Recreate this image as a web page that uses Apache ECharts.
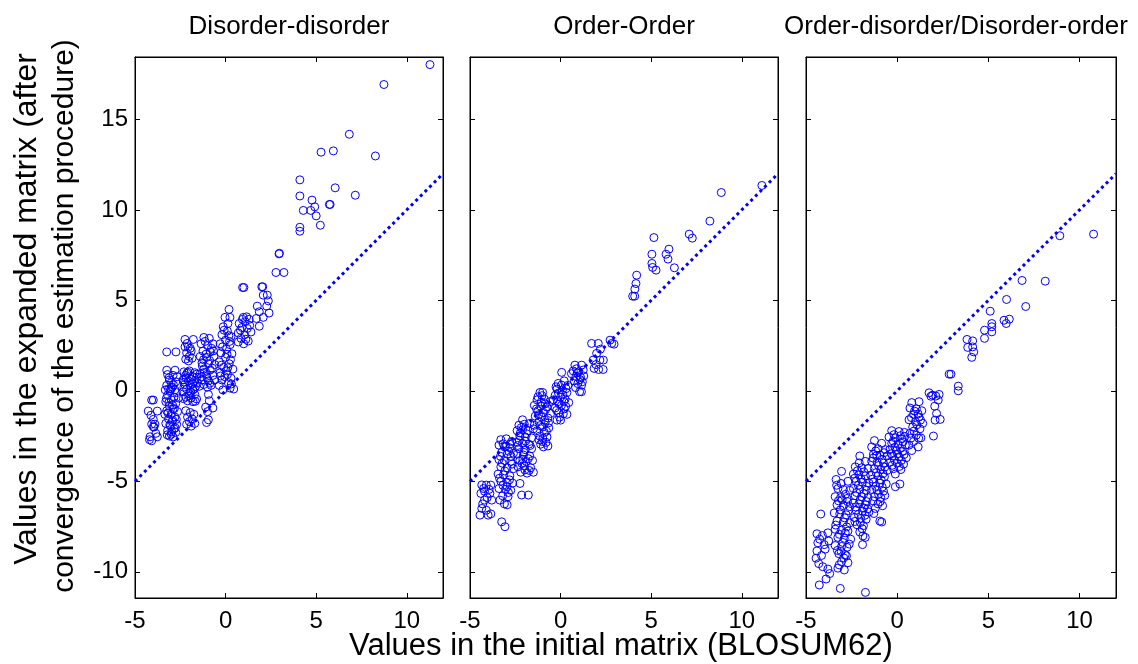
<!DOCTYPE html>
<html>
<head>
<meta charset="utf-8">
<title>Expanded matrix vs BLOSUM62</title>
<script src="https://cdn.jsdelivr.net/npm/echarts@6/dist/echarts.min.js"></script>
<style>
  html, body { margin: 0; padding: 0; background: #fff; }
  #chart { width: 1138px; height: 664px; }
</style>
</head>
<body>
<div id="chart"></div>
<script>
// panel titles
const panelTitles = ['Disorder-disorder', 'Order-Order', 'Order-disorder/Disorder-order'];

// [BLOSUM62 value, value after estimation]
const ddPoints = [
  [-4.08,-0.51],[-3.99,-0.51],[-4.27,-1.12],[-3.77,-1.12],[-3.99,-1.58],[-4.08,-1.84],[-3.9,-1.84],[-3.99,-1.99],
  [-4.17,-2.54],[-3.77,-2.54],[-4.08,-2.76],[-4.2,-2.7],[-3.95,-2.0],[-4.12,-1.35],[-3.85,-2.35],
  [-3.25,2.15],[-2.74,2.15],[-3.25,1.14],[-2.79,1.14],
  [-3.2,0.9],[-2.9,0.85],[-3.1,0.6],[-2.75,0.5],[-3.25,0.3],[-2.95,0.2],[-3.05,0.0],[-2.7,-0.1],[-3.2,-0.25],
  [-2.85,-0.35],[-3.0,-0.5],[-3.3,-0.6],[-2.75,-0.7],[-3.1,-0.85],[-2.9,-1.0],[-3.25,-1.1],[-2.65,-1.15],[-3.0,-1.3],
  [-2.8,-1.45],[-3.15,-1.55],[-2.95,-1.7],[-3.3,-1.8],[-2.7,-1.85],[-3.05,-1.95],[-2.85,-2.1],[-3.2,-2.2],[-2.75,-2.3],
  [-3.0,-2.4],[-2.9,-2.55],[-3.1,-2.5],[-3.35,-1.3],[-3.15,0.1],[-2.8,0.05],[-3.0,0.45],[-2.6,-0.4],
  [-3.12,0.72],[-2.88,0.33],[-3.27,-0.42],[-2.93,-0.78],[-3.18,-1.22],[-2.72,-1.58],[-3.08,-1.88],[-2.97,-2.27],
  [-3.22,-2.43],[-2.83,-0.98],[-3.02,0.12],[-2.67,0.78],[-3.33,0.05],[-2.92,-1.62],[-3.13,-0.63],[-2.78,-2.05],
  [-2.24,2.84],[-1.78,2.84],[-2.24,2.43],[-2.06,2.43],[-2.15,2.1],[-1.9,2.2],[-2.0,1.9],[-2.2,1.75],[-1.85,1.8],[-2.05,1.65],
  [-2.12,2.62],[-1.95,2.35],
  [-2.3,1.05],[-2.0,1.1],[-1.7,1.0],[-2.2,0.85],[-1.85,0.8],[-1.6,0.75],[-2.35,0.6],[-2.05,0.55],[-1.75,0.5],[-2.25,0.35],
  [-1.95,0.3],[-1.65,0.25],[-2.15,0.1],[-1.8,0.05],[-2.35,-0.05],[-2.0,-0.15],[-1.7,-0.2],[-2.2,-0.35],[-1.9,-0.4],
  [-1.6,-0.45],[-2.1,-0.55],[-1.8,-0.6],[-2.3,0.2],[-1.55,0.45],
  [-2.13,0.97],[-1.88,0.62],[-2.27,0.48],[-1.72,0.12],[-2.03,-0.27],[-1.67,-0.58],[-2.18,0.71],[-1.92,-0.08],
  [-2.33,-0.43],[-1.58,0.93],[-2.08,1.03],[-1.82,0.38],
  [-2.2,-1.1],[-1.95,-1.2],[-1.75,-1.3],[-2.1,-1.45],[-1.85,-1.55],[-2.0,-1.7],[-1.7,-1.8],[-1.9,-1.95],[-2.15,-1.85],
  [-1.2,2.95],[-0.9,2.9],[-1.35,2.6],[-1.0,2.5],[-0.7,2.6],[-1.25,2.2],[-0.85,2.15],[-1.4,1.9],[-1.05,1.85],[-0.65,1.9],
  [-1.3,1.55],[-0.95,1.5],[-0.6,1.45],[-1.2,1.2],[-0.85,1.15],[-1.4,0.95],[-1.05,0.9],[-0.7,0.85],[-1.3,0.6],[-0.95,0.55],
  [-0.6,0.6],[-1.2,0.35],[-0.8,0.3],[-1.45,0.25],[-1.0,0.2],
  [-1.13,2.73],[-0.78,2.35],[-1.22,1.72],[-0.88,1.68],[-1.17,1.02],[-0.73,1.25],[-1.33,0.78],[-0.87,0.42],
  [-1.08,2.03],[-0.67,2.21],[-1.28,1.37],[-1.02,0.72],
  [-0.95,-0.2],[-0.9,-0.55],[-1.1,-0.9],[-0.7,-0.95],[-1.0,-1.15],[-0.95,-1.6],[-1.05,-1.75],
  [0.19,4.5],[-0.03,4.06],[0.24,4.06],[-0.13,3.54],
  [0.1,3.3],[-0.2,3.1],[0.3,3.0],[0.0,2.8],[-0.3,2.6],[0.25,2.55],[0.05,2.3],[-0.25,2.1],[0.35,2.05],[0.0,1.85],
  [-0.35,1.6],[0.2,1.5],[-0.1,1.3],[0.4,1.2],[-0.3,1.0],[0.1,0.9],[0.3,0.7],[-0.2,0.6],[0.15,0.45],[-0.35,0.3],
  [0.25,0.15],[0.45,0.1],[0.05,1.1],[-0.15,0.05],
  [0.13,3.72],[-0.08,3.35],[0.22,2.73],[-0.17,2.43],[0.08,2.02],[0.27,1.72],[-0.23,1.42],[0.12,1.28],[-0.05,0.78],
  [0.32,0.38],[-0.28,0.82],[0.18,3.05],
  [1.16,4.09],[0.98,4.06],[0.75,3.72],[1.3,3.95],[0.9,3.5],[1.2,3.45],[0.7,3.2],[1.05,3.1],[1.4,3.25],[0.85,2.9],
  [1.25,2.75],[0.7,2.7],[1.0,2.6],[0.94,5.71],[1.01,5.71],[1.08,3.82],[0.82,3.35],[1.12,2.85],[1.33,3.62],[0.93,3.95],
  [2.0,5.75],[2.05,5.75],[2.08,5.29],[2.3,5.29],[1.75,4.68],[2.36,4.97],[1.86,4.37],[2.27,4.68],[2.08,4.06],[1.86,3.57],
  [1.7,4.0],[2.4,4.3],
  [2.95,7.57],[2.97,7.6],[2.78,6.54],[3.22,6.54],[4.1,9.04],[4.1,8.82],[5.23,9.15],[5.73,10.3],[5.77,10.3],[5.0,9.67],
  [4.29,9.97],[4.7,9.97],[4.92,10.17],[4.77,10.54],[7.16,10.81],[6.05,11.22],[4.1,10.77],[4.1,11.66],[8.27,12.98],
  [5.95,13.26],[5.27,13.19],[6.83,14.18],[8.74,16.93],[11.28,18.03]
];

const ooPoints = [
  [11.11,11.35],[8.87,10.96],[8.24,9.38],[7.1,8.66],[7.27,8.44],[5.15,8.47],[5.04,7.55],[5.98,7.83],[5.82,7.55],
  [5.93,7.28],[6.28,6.8],[5.04,7.04],[5.08,6.82],[5.27,6.67],[4.2,6.39],[4.16,5.93],[4.1,5.62],[3.98,5.23],[4.09,5.23],
  [1.71,2.62],[2.08,2.62],[2.73,2.8],[2.82,2.62],[2.95,2.58],[1.99,2.07],[1.8,1.7],[2.17,1.7],[2.36,1.7],[1.85,1.24],
  [2.1,1.18],[2.35,1.18],[1.95,1.45],[2.2,2.3],
  [0.79,1.42],[1.16,1.42],[0.7,1.1],[1.0,1.05],[1.25,1.15],[0.85,0.8],[1.1,0.75],[0.75,0.55],[1.2,0.5],[0.95,0.4],
  [1.16,0.31],[1.05,-0.05],[1.15,-0.05],[0.6,0.95],[0.88,1.22],[1.07,0.62],[0.83,0.18],[1.28,0.82],[0.92,0.98],
  [0.06,1.02],[-0.13,0.41],[0.2,0.55],[0.4,0.3],[-0.2,0.1],[0.1,0.05],[0.35,-0.1],[-0.3,-0.25],[0.0,-0.35],[0.25,-0.45],
  [-0.15,-0.6],[0.45,-0.65],[0.05,-0.8],[-0.3,-0.95],[0.2,-1.0],[-0.1,-1.2],[0.35,-1.3],[-0.05,-1.45],[-0.2,-1.62],
  [0.0,-1.62],[-0.4,-0.5],
  [0.12,-0.22],[-0.08,-0.72],[0.28,-0.85],[-0.22,-1.08],[0.15,-1.27],[0.05,0.32],[-0.12,-0.12],[0.3,0.12],
  [0.18,-0.58],[-0.25,0.22],
  [-1.14,-0.09],[-0.99,-0.09],[-1.3,-0.5],[-0.9,-0.45],[-0.6,-0.6],[-1.45,-0.8],[-1.1,-0.85],[-0.75,-0.9],[-1.25,-1.1],
  [-0.95,-1.2],[-0.55,-1.25],[-1.4,-1.4],[-1.05,-1.45],[-0.7,-1.5],[-1.2,-1.7],[-0.85,-1.75],[-1.45,-1.9],[-1.0,-2.0],
  [-0.65,-2.05],[-1.3,-2.2],[-0.9,-2.3],[-1.15,-2.5],[-0.75,-2.55],[-1.0,-2.8],[-0.8,-2.85],[-1.1,-2.95],[-0.95,-3.1],
  [-0.7,-3.05],[-1.2,-2.7],
  [-1.07,-0.62],[-0.83,-1.03],[-1.22,-1.32],[-0.88,-1.62],[-1.13,-1.92],[-0.78,-2.23],[-1.33,-1.0],[-0.98,-2.63],
  [-1.25,-0.33],[-0.67,-1.77],[-1.03,-0.27],[-0.85,-0.72],
  [-2.3,-1.9],[-2.0,-1.85],[-1.7,-1.8],[-2.4,-2.2],[-2.1,-2.15],[-1.8,-2.2],[-1.5,-2.1],[-2.25,-2.5],[-1.95,-2.55],
  [-1.6,-2.6],[-2.4,-2.85],[-2.1,-2.9],[-1.75,-2.95],[-2.3,-3.2],[-1.95,-3.25],[-1.6,-3.2],[-2.4,-3.5],[-2.05,-3.55],
  [-1.7,-3.6],[-2.25,-3.85],[-1.9,-3.9],[-1.55,-3.85],[-2.35,-4.2],[-2.0,-4.15],[-1.65,-4.25],[-2.2,-4.5],[-1.85,-4.55],
  [-1.5,-4.5],[-2.24,-5.12],[-2.15,-5.76],[-1.78,-5.76],[-2.1,-1.6],
  [-2.17,-2.03],[-1.88,-2.37],[-2.28,-2.73],[-1.68,-3.02],[-2.03,-3.4],[-1.78,-3.75],[-2.13,-4.02],[-1.73,-4.4],
  [-2.37,-3.02],[-1.97,-4.37],[-2.22,-2.33],[-1.93,-2.78],[-2.08,-3.78],
  [-3.3,-2.7],[-3.0,-2.65],[-2.7,-2.8],[-3.4,-3.0],[-3.1,-3.1],[-2.8,-3.15],[-3.25,-3.4],[-2.95,-3.5],[-2.6,-3.45],
  [-3.4,-3.8],[-3.1,-3.85],[-2.75,-3.9],[-3.3,-4.2],[-2.95,-4.25],[-2.6,-4.3],[-3.45,-4.6],[-3.15,-4.65],[-2.8,-4.7],
  [-3.3,-5.0],[-2.95,-5.05],[-2.65,-5.1],[-3.4,-5.4],[-3.05,-5.45],[-2.75,-5.5],[-3.2,-5.8],[-2.9,-5.85],[-3.35,-6.04],
  [-2.95,-6.3],[-3.1,-6.25],[-3.25,-7.24],[-3.07,-7.51],
  [-3.17,-2.93],[-2.87,-3.33],[-3.32,-3.62],[-2.68,-4.05],[-3.08,-4.43],[-2.82,-4.92],[-3.18,-5.22],[-2.88,-5.62],
  [-3.37,-4.83],[-2.73,-3.62],[-3.03,-3.08],[-3.22,-4.0],[-2.95,-5.3],[-2.8,-2.95],
  [-4.35,-5.2],[-4.1,-5.21],[-3.85,-5.21],[-4.4,-5.67],[-3.9,-5.67],[-4.2,-6.04],[-3.8,-6.04],[-4.35,-6.5],[-4.1,-6.6],
  [-4.45,-6.87],[-4.0,-6.87],[-3.85,-6.8],[-4.25,-5.4],[-4.05,-5.9],[-4.2,-5.55],[-3.95,-5.45],[-4.3,-6.25]
];

const odPoints = [
  [10.77,8.66],[8.92,8.57],[6.85,6.1],[8.12,6.06],[6.0,5.05],[7.05,4.66],[5.1,4.4],[5.19,3.72],[5.19,3.54],[5.86,3.9],
  [6.15,3.96],[5.98,3.72],[4.79,3.35],[5.19,3.26],[4.79,2.9],[3.83,2.84],[4.14,2.76],[3.87,2.4],[4.14,2.43],[4.2,2.15],
  [4.09,1.85],[2.85,0.92],[2.95,0.92],[3.35,0.26],[3.35,0.0],
  [1.75,-0.11],[1.94,-0.24],[2.12,-0.29],[2.25,-0.51],[2.06,-0.85],[2.16,-1.25],[2.36,-1.58],[2.08,-1.62],[1.99,-2.5],
  [1.85,-0.3],[2.3,-0.2],
  [0.8,-0.65],[1.2,-0.6],[0.7,-0.95],[1.05,-1.0],[1.35,-1.1],[0.9,-1.3],[1.2,-1.45],[0.65,-1.6],[1.0,-1.7],[1.4,-1.8],
  [0.85,-2.0],[1.25,-2.1],[0.7,-2.35],[1.05,-2.45],[1.3,-2.6],[0.9,-2.8],[0.65,-3.0],[1.15,-3.1],[0.8,-3.3],
  [0.95,-1.12],[1.15,-1.28],[0.78,-1.48],[1.08,-1.88],[0.92,-2.22],[1.18,-2.62],[0.75,-2.62],[1.28,-1.62],
  [-0.3,-2.2],[0.1,-2.25],[0.4,-2.3],[-0.45,-2.55],[-0.1,-2.6],[0.25,-2.65],[-0.3,-2.9],[0.05,-2.95],[0.45,-3.0],
  [-0.4,-3.25],[-0.05,-3.3],[0.3,-3.35],[-0.25,-3.6],[0.1,-3.65],[0.5,-3.7],[-0.4,-3.95],[0.0,-4.0],[0.35,-4.05],
  [-0.2,-4.3],[0.2,-4.35],[-0.1,-4.6],[0.15,-5.15],[-0.1,-5.3],
  [-0.18,-2.42],[0.18,-2.48],[-0.22,-2.78],[0.32,-2.82],[-0.12,-3.12],[0.18,-3.18],[-0.32,-3.48],[0.38,-3.52],
  [0.02,-3.48],[-0.15,-3.82],[0.23,-3.85],[-0.28,-4.12],[0.12,-4.18],[0.42,-2.52],
  [-1.25,-2.75],[-0.85,-2.9],[-1.4,-3.1],[-1.05,-3.2],[-0.65,-3.25],[-1.3,-3.5],[-0.95,-3.55],[-0.55,-3.6],[-1.4,-3.9],
  [-1.1,-3.95],[-0.75,-4.0],[-1.25,-4.3],[-0.9,-4.35],[-0.55,-4.4],[-1.45,-4.65],[-1.05,-4.7],[-0.7,-4.75],[-1.3,-5.05],
  [-0.95,-5.1],[-0.6,-5.15],[-1.4,-5.45],[-1.1,-5.5],[-0.75,-5.55],[-1.25,-5.85],[-0.9,-5.9],[-1.05,-6.25],[-0.8,-6.35],
  [-1.2,-6.5],[-0.95,-7.2],[-0.85,-7.25],
  [-1.18,-3.32],[-0.83,-3.78],[-1.32,-3.72],[-1.02,-4.13],[-0.68,-4.22],[-1.15,-4.52],[-0.78,-4.58],[-1.35,-4.88],
  [-0.88,-4.92],[-1.18,-5.28],[-0.82,-5.32],[-1.02,-5.72],[-0.68,-5.78],[-1.33,-6.08],[-0.93,-6.12],[-1.12,-3.58],
  [-0.72,-3.42],[-1.28,-6.78],
  [-2.05,-3.6],[-1.75,-3.9],[-2.3,-4.2],[-1.95,-4.25],[-1.6,-4.3],[-2.4,-4.6],[-2.1,-4.65],[-1.75,-4.7],[-2.25,-5.0],
  [-1.9,-5.05],[-1.55,-5.1],[-2.4,-5.4],[-2.05,-5.45],[-1.7,-5.5],[-2.3,-5.8],[-1.95,-5.85],[-1.6,-5.9],[-2.4,-6.2],
  [-2.1,-6.25],[-1.75,-6.3],[-2.25,-6.6],[-1.9,-6.65],[-1.55,-6.7],[-2.35,-7.0],[-2.0,-7.05],[-1.7,-7.1],[-2.2,-7.4],
  [-1.85,-7.45],[-2.05,-7.8],[-1.75,-8.1],[-1.9,-8.5],[-1.74,-11.14],
  [-2.18,-4.42],[-1.83,-4.48],[-2.33,-4.83],[-1.98,-4.88],[-1.68,-5.28],[-2.13,-5.22],[-2.23,-5.62],[-1.83,-5.68],
  [-2.03,-6.03],[-1.68,-6.12],[-2.28,-6.42],[-1.83,-6.47],[-2.13,-6.83],[-1.77,-6.88],[-2.02,-7.28],[-2.32,-7.22],
  [-1.92,-7.62],[-1.62,-6.52],[-2.08,-3.98],[-1.88,-8.02],
  [-3.05,-4.45],[-3.35,-4.9],[-2.7,-5.0],[-3.25,-5.4],[-2.95,-5.45],[-2.6,-5.5],[-3.4,-5.85],[-3.1,-5.9],[-2.75,-5.95],
  [-3.3,-6.3],[-2.95,-6.35],[-2.6,-6.4],[-3.45,-6.75],[-3.15,-6.8],[-2.8,-6.85],[-3.3,-7.2],[-2.95,-7.25],[-2.6,-7.3],
  [-3.4,-7.65],[-3.05,-7.7],[-2.7,-7.75],[-3.25,-8.1],[-2.9,-8.15],[-2.55,-8.2],[-3.4,-8.55],[-3.05,-8.6],[-2.75,-8.65],
  [-3.2,-9.0],[-2.85,-9.05],[-3.05,-9.45],[-2.7,-9.5],[-3.25,-9.8],[-2.9,-9.9],[-3.12,-10.92],
  [-3.08,-5.12],[-2.83,-5.72],[-3.22,-6.08],[-2.68,-6.62],[-3.12,-6.58],[-2.88,-7.02],[-3.37,-7.42],[-2.77,-7.52],
  [-3.17,-7.93],[-2.98,-8.38],[-2.63,-8.47],[-3.28,-8.82],[-2.93,-9.23],[-3.18,-9.62],[-2.78,-9.12],[-3.02,-6.02],
  [-3.32,-5.22],[-2.72,-6.12],[-3.07,-8.88],[-2.85,-7.85],
  [-4.19,-6.81],[-4.4,-7.9],[-4.1,-8.0],[-3.8,-7.85],[-4.35,-8.4],[-4.0,-8.5],[-4.4,-8.85],[-4.15,-9.1],[-4.45,-9.25],
  [-3.75,-8.3],[-4.08,-9.72],[-3.8,-9.85],[-3.7,-10.1],[-3.9,-10.4],[-4.27,-10.73],[-4.25,-8.2],[-3.95,-8.75],[-4.3,-9.55]
];

// y = x reference line
const diagLine = [[-5, -5], [12, 12]];

const xRange = [-5, 12];
const yRange = [-11.45, 18.45];

const FONT = '"Liberation Sans", Arial, sans-serif';
const BLUE = '#0000ff';

const chart = echarts.init(document.getElementById('chart'), null, { renderer: 'canvas' });

const grids = [
  { left: 135, top: 57, width: 308, height: 541 },
  { left: 470, top: 57, width: 308, height: 541 },
  { left: 806, top: 57, width: 310, height: 541 }
].map(g => Object.assign(g, { show: true, borderColor: '#000', borderWidth: 1, backgroundColor: 'transparent' }));

function xAxis(gi, pos) {
  return {
    type: 'value', gridIndex: gi, position: pos,
    min: xRange[0], max: xRange[1], interval: 5,
    axisLine: { show: true, onZero: false, lineStyle: { color: '#000', width: 1 } },
    axisTick: { show: true, inside: true, length: 5, lineStyle: { color: '#000' } },
    axisLabel: {
      show: pos === 'bottom', showMaxLabel: false,
      fontSize: 24, color: '#000', fontFamily: FONT, margin: 11
    },
    splitLine: { show: false }
  };
}

function yAxis(gi, pos) {
  return {
    type: 'value', gridIndex: gi, position: pos,
    min: yRange[0], max: yRange[1],
    axisLine: { show: true, onZero: false, lineStyle: { color: '#000', width: 1 } },
    axisTick: { show: true, inside: true, length: 5, lineStyle: { color: '#000' } },
    axisLabel: {
      show: gi === 0 && pos === 'left', showMinLabel: false, showMaxLabel: false,
      fontSize: 24, color: '#000', fontFamily: FONT, margin: 7
    },
    splitLine: { show: false }
  };
}

const panels = [ddPoints, ooPoints, odPoints];
const series = [];
panels.forEach((pts, i) => {
  // diagonal drawn on the top/right axes so those axes get rendered too
  series.push({
    type: 'line', xAxisIndex: 3 + i, yAxisIndex: 3 + i,
    data: diagLine, showSymbol: false, silent: true,
    lineStyle: { color: BLUE, width: 3, type: [3, 3.5] },
    z: 1
  });
  series.push({
    type: 'scatter', xAxisIndex: i, yAxisIndex: i,
    data: pts, symbol: 'circle', symbolSize: 8,
    itemStyle: { color: 'rgba(0,0,0,0)', borderColor: BLUE, borderWidth: 1, opacity: 1 },
    z: 2
  });
});

const titleX = [289, 624, 956];

chart.setOption({
  animation: false,
  backgroundColor: '#fff',
  grid: grids,
  xAxis: [xAxis(0, 'bottom'), xAxis(1, 'bottom'), xAxis(2, 'bottom'),
          xAxis(0, 'top'), xAxis(1, 'top'), xAxis(2, 'top')],
  yAxis: [yAxis(0, 'left'), yAxis(1, 'left'), yAxis(2, 'left'),
          yAxis(0, 'right'), yAxis(1, 'right'), yAxis(2, 'right')],
  series: series,
  graphic: [
    ...panelTitles.map((t, i) => ({
      type: 'text', x: titleX[i], y: 27,
      style: { text: t, fontSize: 26, fontFamily: FONT, fill: '#000', align: 'center', verticalAlign: 'middle' }
    })),
    {
      type: 'text', x: 27, y: 309, rotation: Math.PI / 2,
      style: { text: 'Values in the expanded matrix (after', fontSize: 32, fontFamily: FONT, fill: '#000', align: 'center', verticalAlign: 'middle' }
    },
    {
      type: 'text', x: 65, y: 316, rotation: Math.PI / 2,
      style: { text: 'convergence of the estimation procedure)', fontSize: 30, fontFamily: FONT, fill: '#000', align: 'center', verticalAlign: 'middle' }
    },
    {
      type: 'text', x: 621, y: 646,
      style: { text: 'Values in the initial matrix (BLOSUM62)', fontSize: 31, fontFamily: FONT, fill: '#000', align: 'center', verticalAlign: 'middle' }
    }
  ]
});
</script>
</body>
</html>
